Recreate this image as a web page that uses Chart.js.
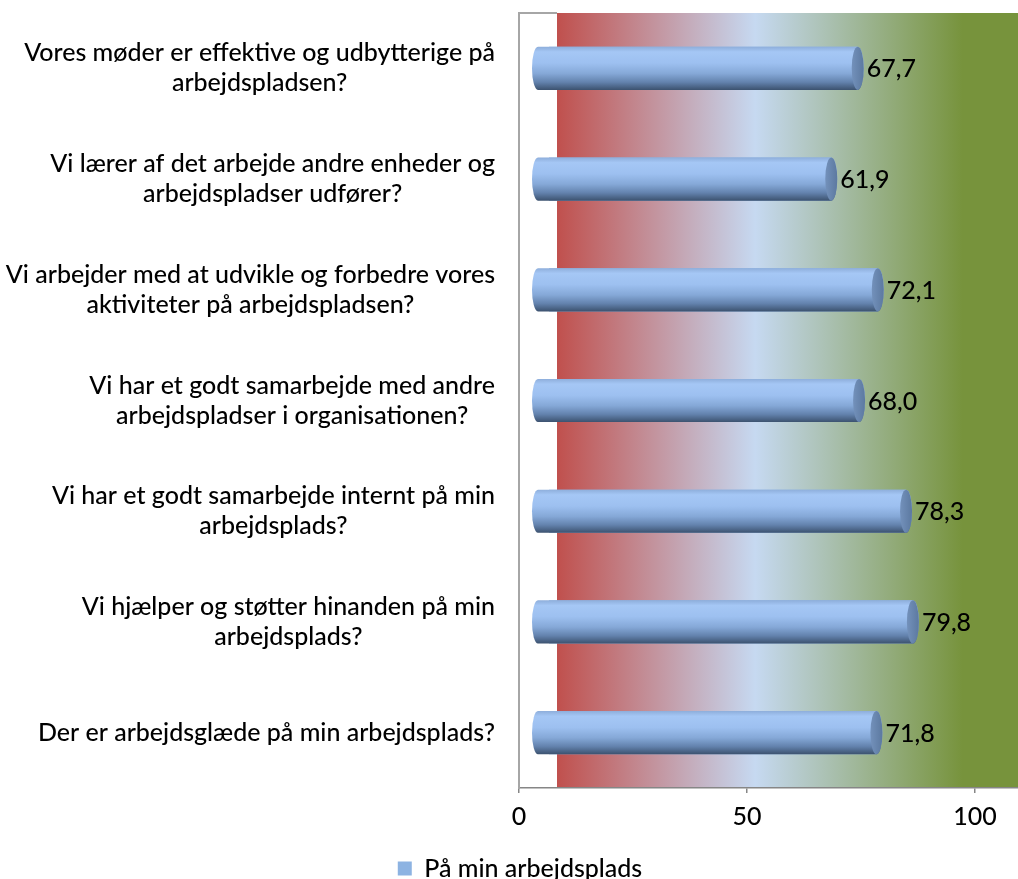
<!DOCTYPE html>
<html>
<head>
<meta charset="utf-8">
<script src="https://cdn.jsdelivr.net/npm/chart.js@4/dist/chart.umd.min.js"></script>
<style>
  body { margin: 0; background: #fff; }
  canvas { display: block; }
</style>
</head>
<body>
<canvas id="chart" width="1018" height="879"></canvas>
<script>
// questions, top to bottom
const questions = [
  ["Vores møder er effektive og udbytterige på", "arbejdspladsen?"],
  ["Vi lærer af det arbejde andre enheder og", "arbejdspladser udfører?"],
  ["Vi arbejder med at udvikle og forbedre vores", "aktiviteter på arbejdspladsen?"],
  ["Vi har et godt samarbejde med andre", "arbejdspladser i organisationen?"],
  ["Vi har et godt samarbejde internt på min", "arbejdsplads?"],
  ["Vi hjælper og støtter hinanden på min", "arbejdsplads?"],
  ["Der er arbejdsglæde på min arbejdsplads?"]
];
const scores = [67.7, 61.9, 72.1, 68.0, 78.3, 79.8, 71.8];
const seriesName = "På min arbejdsplads";
const axisTicks = [0, 50, 100];

const FONT = { family: "Lato", size: 25, weight: 500, lineHeight: 1.13 };
const FONT_CSS = '500 25px Lato';
const LABEL_LINE = 30;   // line spacing of the question labels
const LABEL_GAP = 24;    // gap between label block and the axis
const WALL_DEPTH = 38;   // white side wall of the 3d plot
const BAR_DEPTH = 11;    // cylinder tail left of the base
const CAP_RX = 6;

// back wall gradient + side wall
const wallPlugin = {
  id: 'wall',
  beforeDraw(chart) {
    const { ctx, chartArea: a } = chart;
    ctx.save();
    ctx.fillStyle = '#fff';
    ctx.fillRect(0, 0, chart.width, chart.height);
    const x0 = a.left + WALL_DEPTH;
    const g = ctx.createLinearGradient(x0, 0, a.right, 0);
    g.addColorStop(0, '#c0504d');
    g.addColorStop(0.43, '#c6d9f1');
    g.addColorStop(0.88, '#77933c');
    g.addColorStop(1, '#77933c');
    ctx.fillStyle = g;
    ctx.fillRect(x0, a.top, a.right - x0, a.bottom - a.top - 1);
    ctx.strokeStyle = '#a6a6a6';
    ctx.lineWidth = 2;
    ctx.beginPath();
    ctx.moveTo(a.left, a.top);
    ctx.lineTo(x0, a.top);
    ctx.stroke();
    ctx.restore();
  },
  // legend sits a bit lower and right of the default spot
  afterLayout(chart) {
    const lg = chart.legend;
    lg.left += 11; lg.right += 11;
    lg.top += 12; lg.bottom += 12;
  }
};

// question labels: block right aligned to the axis, lines centred in the block
const labelPlugin = {
  id: 'qlabels',
  afterDraw(chart) {
    const { ctx } = chart;
    const y = chart.scales.y;
    const right = y.right - LABEL_GAP;
    ctx.save();
    ctx.font = FONT_CSS;
    ctx.fillStyle = '#000';
    ctx.textAlign = 'center';
    ctx.textBaseline = 'middle';
    chart.data.labels.forEach((lines, i) => {
      const w = Math.max(...lines.map(l => ctx.measureText(l).width));
      const cx = right - w / 2;
      const cy = y.getPixelForTick(i);
      lines.forEach((l, j) => {
        ctx.fillText(l, cx, cy + (j - (lines.length - 1) / 2) * LABEL_LINE);
      });
    });
    ctx.restore();
  }
};

// cylinders and value labels
const cylinderPlugin = {
  id: 'cylinders',
  afterDatasetsDraw(chart) {
    const { ctx } = chart;
    const meta = chart.getDatasetMeta(0);
    meta.data.forEach((bar, i) => {
      const h = bar.height;
      const top = bar.y - h / 2;
      const ry = h / 2;
      const left = bar.base - BAR_DEPTH;
      const right = bar.x;

      const body = ctx.createLinearGradient(0, top, 0, top + h);
      body.addColorStop(0, '#8eaedb');
      body.addColorStop(0.12, '#a5c7f5');
      body.addColorStop(0.38, '#9dc0f0');
      body.addColorStop(0.62, '#85a8d7');
      body.addColorStop(0.82, '#6382ad');
      body.addColorStop(1, '#3c526f');

      ctx.save();
      ctx.fillStyle = body;
      ctx.beginPath();
      ctx.ellipse(left, bar.y, CAP_RX, ry, 0, Math.PI / 2, Math.PI * 1.5);
      ctx.lineTo(right, top);
      ctx.ellipse(right, bar.y, CAP_RX, ry, 0, -Math.PI / 2, Math.PI / 2);
      ctx.closePath();
      ctx.fill();

      const cap = ctx.createLinearGradient(right - CAP_RX, 0, right + CAP_RX, 0);
      cap.addColorStop(0, '#7391bb');
      cap.addColorStop(1, '#5c79a0');
      ctx.fillStyle = cap;
      ctx.beginPath();
      ctx.ellipse(right, bar.y, CAP_RX, ry, 0, 0, Math.PI * 2);
      ctx.fill();

      ctx.fillStyle = '#000';
      ctx.font = FONT_CSS;
      ctx.textBaseline = 'middle';
      ctx.textAlign = 'left';
      ctx.fillText(scores[i].toFixed(1).replace('.', ','), right + CAP_RX + 3, bar.y + 1);
      ctx.restore();
    });
  }
};

new Chart(document.getElementById('chart'), {
  type: 'bar',
  data: {
    labels: questions,
    datasets: [{
      label: seriesName,
      data: scores,
      xAxisID: 'x2',
      backgroundColor: '#8db3e2',
      borderWidth: 0,
      barPercentage: 0.39,
      categoryPercentage: 1
    }]
  },
  options: {
    indexAxis: 'y',
    responsive: false,
    animation: false,
    layout: { padding: { left: 0, top: 13, right: 0, bottom: 0 } },
    scales: {
      x: {
        type: 'linear',
        position: 'bottom',
        min: 0,
        max: 109.43,
        afterBuildTicks: s => { s.ticks = axisTicks.map(v => ({ value: v })); },
        ticks: { font: FONT, color: '#000', padding: 10 },
        grid: { drawOnChartArea: false, tickLength: 5, color: '#868686', lineWidth: 1.5 },
        border: { color: '#868686', width: 1.5 },
        afterFit: s => { s.height = 52; }
      },
      x2: { type: 'linear', display: false, min: -6.58, max: 102.85 },
      y: {
        ticks: { display: false },
        grid: { display: false },
        border: { color: '#a6a6a6', width: 2 },
        afterFit: s => { s.width = 519; s.paddingTop = 0; s.paddingBottom = 0; }
      }
    },
    plugins: {
      legend: {
        position: 'bottom',
        labels: { boxWidth: 14, boxHeight: 14, font: FONT, color: '#000', padding: 4 }
      },
      tooltip: { enabled: false }
    }
  },
  plugins: [wallPlugin, labelPlugin, cylinderPlugin]
});
</script>
</body>
</html>
